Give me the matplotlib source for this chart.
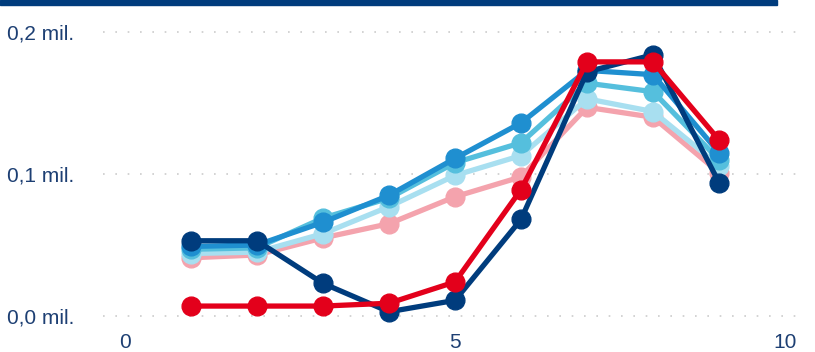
import matplotlib.pyplot as plt
from matplotlib.patches import Rectangle

# category positions and series values (in millions)
x = [1, 2, 3, 4, 5, 6, 7, 8, 9]
pink = [0.041, 0.043, 0.055, 0.065, 0.084, 0.098, 0.147, 0.140, 0.101]
light_blue = [0.044, 0.045, 0.058, 0.077, 0.099, 0.113, 0.153, 0.144, 0.106]
cyan = [0.047, 0.048, 0.069, 0.083, 0.108, 0.122, 0.164, 0.158, 0.110]
mid_blue = [0.049, 0.050, 0.066, 0.085, 0.111, 0.136, 0.173, 0.170, 0.115]
navy = [0.053, 0.053, 0.023, 0.003, 0.011, 0.068, 0.172, 0.184, 0.094]
red = [0.007, 0.007, 0.007, 0.009, 0.024, 0.089, 0.179, 0.179, 0.124]

y_ticks = [0.0, 0.1, 0.2]
y_labels = ["0,0 mil.", "0,1 mil.", "0,2 mil."]
x_ticks = [0, 5, 10]

series = [
    (pink, "#f4a3ad"),
    (light_blue, "#a8dff0"),
    (cyan, "#55bfdd"),
    (mid_blue, "#1f8fd0"),
    (navy, "#003c7d"),
    (red, "#e3001b"),
]

text_color = "#1d3f73"
plt.rcParams["font.family"] = ["Liberation Sans", "DejaVu Sans"]

fig = plt.figure(figsize=(8.15, 3.52), dpi=100)
# axes box in pixels: left 103, right 800, top 20, bottom 330
ax = fig.add_axes([103 / 815, 22 / 352, 697 / 815, 310 / 352])

for vals, col in series:
    ax.plot(x, vals, color=col, linewidth=3.8, marker="o", markersize=13.5,
            solid_capstyle="round", clip_on=False)

ax.set_xlim(-0.333, 10.227)
ax.set_ylim(-0.00986, 0.2085)
ax.set_yticks(y_ticks)
ax.set_yticklabels(y_labels)
ax.set_xticks(x_ticks)

for s in ax.spines.values():
    s.set_visible(False)
ax.tick_params(length=0, labelsize=15, colors=text_color)
ax.tick_params(axis="x", pad=2)
for lab in ax.get_yticklabels():
    lab.set_horizontalalignment("left")
    lab.set_x(-91 / 697)

ax.grid(axis="y", color="#cccccc", linestyle=(0, (1, 6.4)), linewidth=1.2)
ax.set_axisbelow(True)

# dark bar across the top
fig.patches.append(Rectangle((0, 1 - 4.5 / 352), 777 / 815, 4.5 / 352,
                             transform=fig.transFigure, color="#003c7d", zorder=5))

fig.savefig("out.png", dpi=100)
